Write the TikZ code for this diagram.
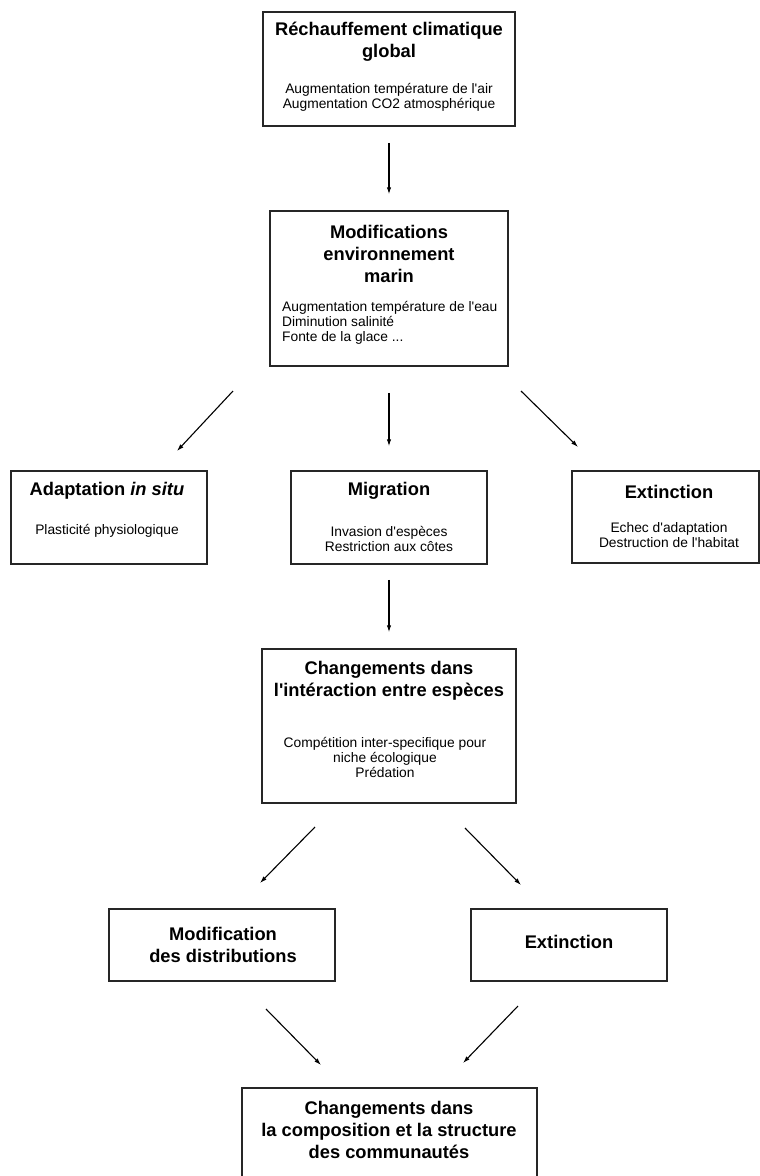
\documentclass[tikz,border=0pt]{standalone}
\usepackage{fontspec}
\setmainfont{Liberation Sans}
\usepackage{tikz}
\usetikzlibrary{arrows.meta}

\newcommand{\grand}{\fontsize{18.3bp}{22bp}\selectfont\bfseries}
\newcommand{\petit}{\fontsize{13.8bp}{15bp}\selectfont}
\newcommand{\apos}{\textquotesingle{}}

\begin{document}
\begin{tikzpicture}[x=1bp,y=-1bp,
	boite/.style={draw=black!85,line width=1.5bp,inner sep=0pt},
	titre/.style={font=\grand,align=center,inner sep=0pt},
	texte/.style={font=\petit,align=center,inner sep=0pt},
	fleche/.style={-{Latex[length=7bp,width=4.5bp]},line width=1.1bp}]
	\useasboundingbox (0,0) rectangle (760,1176);
	\clip (0,0) rectangle (760,1176);
	
	% boites
	\node[boite,minimum width=252bp,minimum height=114bp] (rech) at (389,69) {};
	\node[titre] (rechT) at (389,42) {Réchauffement climatique\\global};
	\node[texte] (rechC) at (389,97) {Augmentation température de l\apos air\\Augmentation CO2 atmosphérique};
	
	\node[boite,minimum width=238bp,minimum height=155bp] (env) at (389,288.5) {};
	\node[titre] (envT) at (389,254) {Modifications\\environnement\\marin};
	\node[texte,align=left,anchor=west] (envC) at (282,323) {Augmentation température de l\apos eau\\Diminution salinité\\Fonte de la glace ...};
	
	\node[boite,minimum width=196bp,minimum height=93bp] (adapt) at (109,517.5) {};
	\node[titre] (adaptT) at (107,491) {Adaptation \textit{in situ}};
	\node[texte] (adaptC) at (107,531) {Plasticité physiologique};
	
	\node[boite,minimum width=196bp,minimum height=93bp] (migr) at (389,517.5) {};
	\node[titre] (migrT) at (389,491) {Migration};
	\node[texte] (migrC) at (389,539) {Invasion d\apos espèces\\Restriction aux côtes};
	
	\node[boite,minimum width=187bp,minimum height=92bp] (ext) at (665.5,517) {};
	\node[titre] (extT) at (669,492) {Extinction};
	\node[texte] (extC) at (669,535) {Echec d\apos adaptation\\Destruction de l\apos habitat};
	
	\node[boite,minimum width=254bp,minimum height=154bp] (inter) at (389,726) {};
	\node[titre] (interT) at (389,681) {Changements dans\\l\apos intéraction entre espèces};
	\node[texte] (interC) at (385,757) {Compétition inter-specifique pour\\niche écologique\\Prédation};
	
	\node[boite,minimum width=226bp,minimum height=72bp] (modif) at (222,945) {};
	\node[titre] (modifT) at (223,944.5) {Modification\\des distributions};
	
	\node[boite,minimum width=196bp,minimum height=72bp] (ext2) at (569,945) {};
	\node[titre] (ext2T) at (569,942) {Extinction};
	
	\node[boite,minimum width=295bp,minimum height=120bp] (comm) at (389.5,1148) {};
	\node[titre] (commT) at (389,1130) {Changements dans\\la composition et la structure\\des communautés};
	
	% fleches
	\draw[fleche,shorten <=16bp,shorten >=16bp] (rech.south) -- (env.north);
	\draw[fleche,shorten <=26bp,shorten >=24bp] (env.south) -- (migr.north);
	\draw[fleche,shorten <=15bp,shorten >=16bp] (migr.south) -- (inter.north);
	
	\coordinate (envG) at (233,391);
	\coordinate (adaptH) at (177,451);
	\coordinate (envD) at (521,391);
	\coordinate (extH) at (578,447);
	\draw[fleche] (envG) -- (adaptH);
	\draw[fleche] (envD) -- (extH);
	
	\coordinate (interG) at (315,827);
	\coordinate (modifH) at (260,883);
	\coordinate (interD) at (465,828);
	\coordinate (ext2H) at (521,885);
	\draw[fleche] (interG) -- (modifH);
	\draw[fleche] (interD) -- (ext2H);
	
	\coordinate (modifB) at (266,1009);
	\coordinate (commG) at (321,1065);
	\coordinate (ext2B) at (518,1006);
	\coordinate (commD) at (463,1063);
	\draw[fleche] (modifB) -- (commG);
	\draw[fleche] (ext2B) -- (commD);
\end{tikzpicture}
\end{document}
